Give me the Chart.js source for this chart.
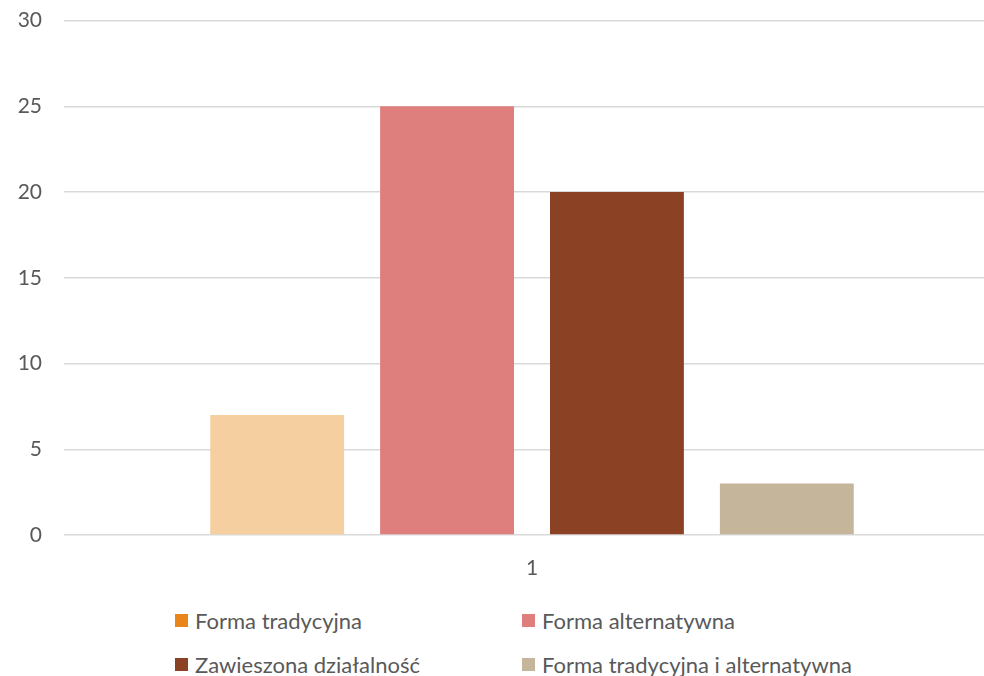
<!DOCTYPE html>
<html>
<head>
<meta charset="utf-8">
<script src="https://cdn.jsdelivr.net/npm/chart.js@4/dist/chart.umd.min.js"></script>
<style>
  html, body { margin: 0; padding: 0; background: #fff; overflow: hidden; }
  body { width: 984px; height: 676px; position: relative; font-family: Lato, "Noto Sans", sans-serif; }
  #wrap { position: absolute; left: 0; top: -14px; width: 1000px; height: 604px; }
  #legend { position: absolute; left: 175px; top: 608px; display: grid; grid-template-columns: 347px 347px; row-gap: 20px; }
  .item { display: flex; align-items: center; font-size: 22px; color: #595959; height: 24px; white-space: nowrap; }
  .box { width: 13px; height: 13px; margin-right: 7px; flex: none; }
</style>
</head>
<body>
<div id="wrap"><canvas id="chart"></canvas></div>
<div id="legend"></div>
<script>
const categories = ["1"];
const seriesNames = ["Forma tradycyjna", "Forma alternatywna", "Zawieszona działalność", "Forma tradycyjna i alternatywna"];
const seriesValues = [7, 25, 20, 3];
const barColors = ["#F6CFA0", "#DE7E7D", "#8B4124", "#C5B59A"];
const legendColors = ["#E8861C", "#DE7E7D", "#8B4124", "#C5B59A"];
const yTicks = [0, 5, 10, 15, 20, 25, 30];

const datasets = seriesNames.map((name, i) => ({
    label: name,
    data: [seriesValues[i]],
    backgroundColor: barColors[i],
    categoryPercentage: 0.726,
    barPercentage: 0.788
}));

const ctx = document.getElementById("chart").getContext("2d");
new Chart(ctx, {
    type: "bar",
    data: { labels: categories, datasets },
    options: {
        responsive: true,
        maintainAspectRatio: false,
        animation: false,
        layout: { padding: { left: 0, top: 2, right: 0, bottom: 0 } },
        plugins: {
            legend: { display: false },
            tooltip: { enabled: false }
        },
        scales: {
            x: {
                grid: { display: false },
                border: { display: false },
                ticks: { color: "#595959", font: { family: "Lato", size: 21 }, padding: 13 },
                afterFit: axis => { axis.height = 55; }
            },
            y: {
                min: 0,
                max: 30,
                afterBuildTicks: axis => { axis.ticks = yTicks.map(v => ({ value: v })); },
                grid: { color: "#D9D9D9", lineWidth: 1.5, drawTicks: false },
                border: { display: false },
                ticks: { color: "#595959", font: { family: "Lato", size: 21 }, padding: 22 },
                afterFit: axis => { axis.width = 64; }
            }
        }
    }
});

const legend = document.getElementById("legend");
seriesNames.forEach((name, i) => {
    const item = document.createElement("div");
    item.className = "item";
    item.innerHTML = `<span class="box" style="background:${legendColors[i]}"></span>${name}`;
    legend.appendChild(item);
});
</script>
</body>
</html>
